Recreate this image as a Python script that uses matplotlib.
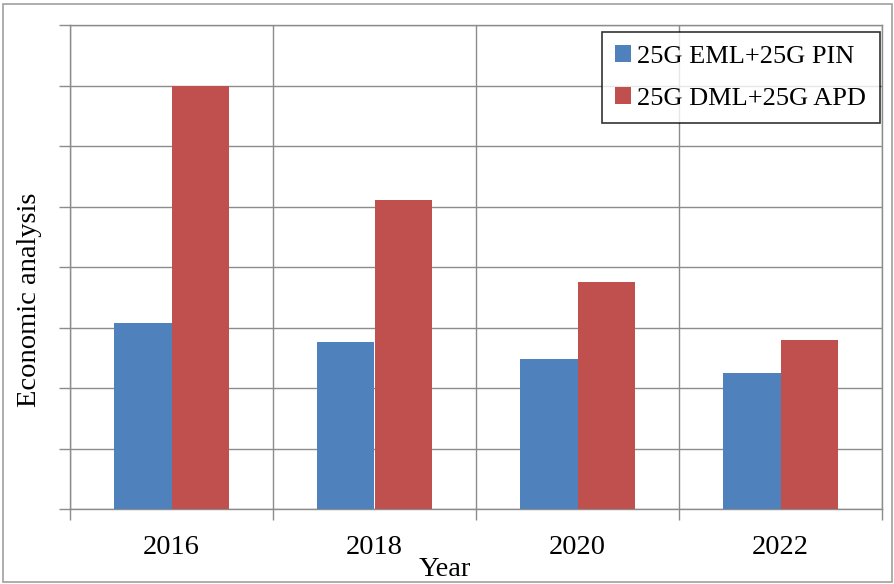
import matplotlib.pyplot as plt
import matplotlib.patches as mpatches
import numpy as np

years = ['2016', '2018', '2020', '2022']
eml_pin = [3.08, 2.76, 2.48, 2.25]
dml_apd = [7.0, 5.1, 3.75, 2.8]
labels = ['25G EML+25G PIN', '25G DML+25G APD']

plt.rcParams['font.family'] = ['Liberation Serif', 'DejaVu Serif']

fig = plt.figure(figsize=(8.95, 5.84), dpi=100)
ax = fig.add_axes([70/895, 75/584, 812/895, 484/584])

# outer frame of the chart
fig.patches.append(mpatches.Rectangle((3/895, 2/584), 889/895, 578/584,
                                      transform=fig.transFigure, fill=False,
                                      edgecolor='#a0a0a0', linewidth=1.2))

x = np.arange(len(years))
w = 0.285
ax.bar(x - w/2, eml_pin, w, color='#4F81BD', label=labels[0], zorder=3)
ax.bar(x + w/2, dml_apd, w, color='#C0504D', label=labels[1], zorder=3)

gray = '#8c8c8c'
fs = 20.5
ax.set_xlim(-0.5, 3.5)
ax.set_ylim(0, 8)
ax.set_xticks(x)
ax.set_xticklabels(years, fontsize=fs)
ax.set_xticks(np.arange(-0.5, 4, 1), minor=True)
ax.set_yticks(np.arange(0, 9, 1))
ax.set_yticklabels([])
ax.tick_params(axis='x', which='major', length=0, pad=19)
ax.tick_params(axis='x', which='minor', length=8, color=gray, width=1)
ax.tick_params(axis='y', length=8, color=gray, width=1)
ax.grid(True, which='minor', axis='x', color=gray, linewidth=1, zorder=0)
ax.grid(True, which='major', axis='y', color=gray, linewidth=1, zorder=0)
for s in ax.spines.values():
    s.set_color(gray)
    s.set_linewidth(1)

fig.text(445/895, 1 - 569/584, 'Year', fontsize=fs, ha='center', va='center')
fig.text(30/895, 1 - 300/584, 'Economic analysis', fontsize=fs,
         rotation=90, ha='center', va='center')

leg = ax.legend(loc='upper right', bbox_to_anchor=(0.997, 0.986), fontsize=19,
                frameon=True, fancybox=False, edgecolor='black',
                handlelength=0.6, handleheight=0.6, handletextpad=0.25,
                labelspacing=0.75, borderpad=0.5, borderaxespad=0)
leg.get_frame().set_linewidth(1.2)
leg.set_zorder(5)

plt.savefig('out.png', dpi=100)
